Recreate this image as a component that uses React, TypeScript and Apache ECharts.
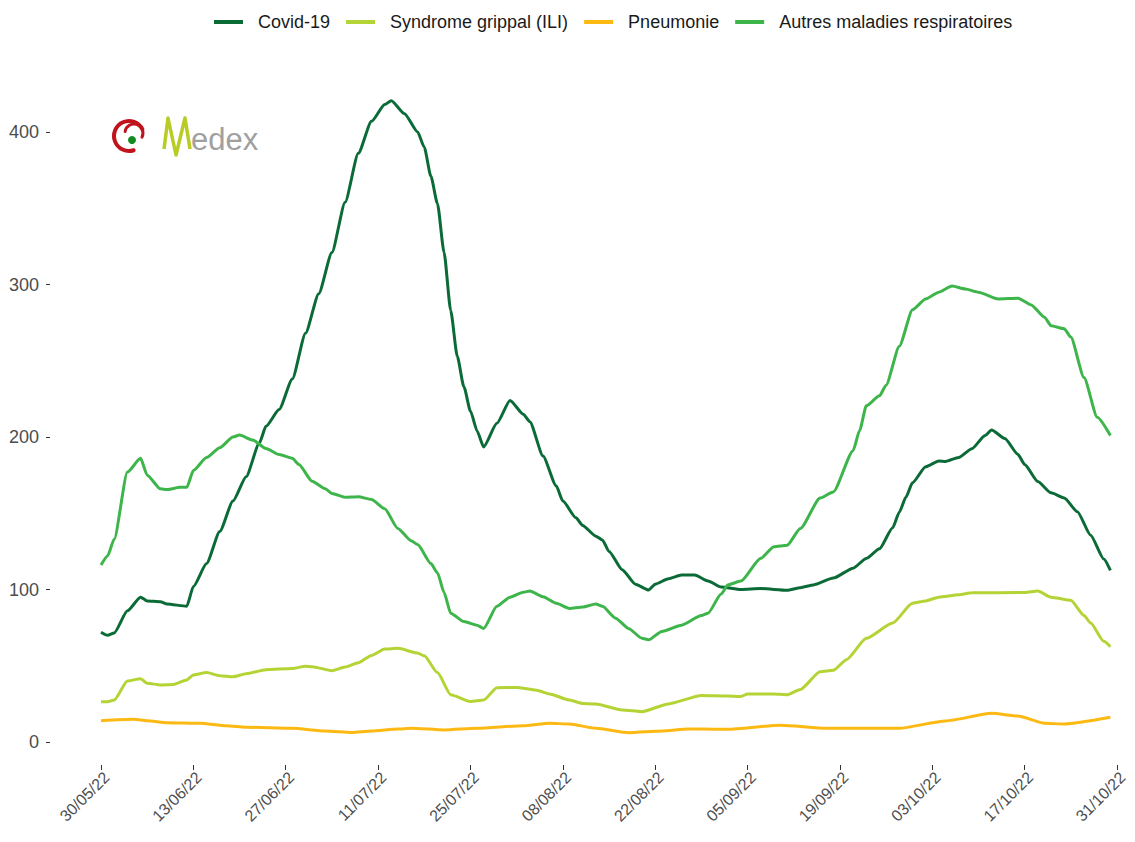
import React, { useEffect, useRef } from "react";
import * as echarts from "echarts";

// Dates are "dd/mm" in 2022
const covidDates = ["30/05","31/05","01/06","03/06","05/06","06/06","08/06","09/06","12/06","13/06","15/06","17/06","19/06","21/06","23/06","24/06","26/06","28/06","30/06","02/07","04/07","06/07","08/07","10/07","12/07","13/07","15/07","17/07","18/07","19/07","20/07","21/07","22/07","23/07","24/07","25/07","26/07","27/07","29/07","31/07","02/08","03/08","05/08","07/08","08/08","10/08","11/08","13/08","14/08","15/08","17/08","19/08","21/08","22/08","24/08","26/08","28/08","30/08","01/09","04/09","07/09","11/09","13/09","15/09","18/09","21/09","23/09","25/09","27/09","28/09","29/09","30/09","02/10","04/10","05/10","07/10","09/10","11/10","12/10","14/10","16/10","17/10","19/10","21/10","23/10","25/10","27/10","29/10","30/10"];
const covidValues = [72,70,71.5,86,95,92.5,92,90.5,89,102,117,138,158,174,196,207,218,238,268,294,321,354,386,407,418,420.5,412,400,390,371,353,321,283,253,233,217,204,193.5,209,224,215,210,187.5,168,158,147,142,135,132.5,125,113,103.5,99.7,103.5,107,109.5,109.5,105.6,101.6,100,100.6,99.5,101.2,103,107.5,114,120.4,126.7,140.5,150.7,160.5,170,180.5,184.3,184,186.6,192.3,201,204.6,199,188.5,182,170.8,163.4,160,151,135.6,120,112.5];

const iliDates = ["30/05","31/05","01/06","03/06","05/06","06/06","08/06","10/06","12/06","13/06","15/06","17/06","19/06","21/06","24/06","28/06","30/06","01/07","04/07","06/07","08/07","10/07","12/07","14/07","17/07","18/07","20/07","22/07","25/07","27/07","29/07","01/08","04/08","06/08","09/08","11/08","13/08","17/08","20/08","24/08","29/08","02/09","04/09","05/09","09/09","11/09","13/09","16/09","18/09","20/09","23/09","27/09","30/09","02/10","04/10","07/10","09/10","17/10","19/10","21/10","24/10","26/10","27/10","29/10","30/10"];
const iliValues = [26.4,26.4,27.5,40,41.5,38.5,37.4,37.7,40.7,44,45.5,43.5,42.8,44.8,47.4,48.2,49.7,49.4,46.8,49.2,52,56.8,61,61.4,58.3,56.5,45.5,31,26.5,27.5,35.6,35.8,34,31.5,27.5,25.3,24.9,21,19.9,25,30.5,30.2,29.8,31.5,31.5,31,34.5,46,47,54,68,78,91,92.5,95,96.5,97.8,98,99,95,93,83,78,66,62.5];

const pneuDates = ["30/05","04/06","06/06","09/06","14/06","18/06","21/06","28/06","03/07","07/07","10/07","14/07","16/07","21/07","26/07","02/08","06/08","09/08","13/08","18/08","23/08","27/08","29/08","02/09","10/09","17/09","28/09","05/10","12/10","16/10","20/10","23/10","30/10"];
const pneuValues = [14,14.9,14,12.7,12.3,10.7,9.7,9,7.2,6.3,7.2,8.5,9,7.9,9,10.7,12.3,11.8,9,6.1,7.2,8.5,8.5,8.3,11,9,9,13.8,18.8,17,12.3,11.8,16.2];

const autresDates = ["30/05","31/05","01/06","03/06","05/06","06/06","08/06","09/06","11/06","12/06","13/06","15/06","17/06","19/06","20/06","22/06","24/06","26/06","28/06","29/06","01/07","03/07","04/07","06/07","08/07","10/07","12/07","14/07","16/07","17/07","19/07","20/07","21/07","22/07","24/07","26/07","27/07","29/07","31/07","02/08","03/08","05/08","07/08","09/08","11/08","13/08","14/08","16/08","18/08","20/08","21/08","23/08","26/08","29/08","30/08","01/09","02/09","04/09","07/09","09/09","11/09","13/09","16/09","18/09","21/09","22/09","23/09","25/09","26/09","28/09","30/09","02/10","04/10","06/10","08/10","10/10","13/10","16/10","18/10","20/10","21/10","23/10","24/10","26/10","28/10","30/10"];
const autresValues = [116,122,133,177,186,175,166,165.5,167,167,178,186.5,193,200,201.3,198,192.5,188.5,186,182,171,166,163,160.5,160.8,159,153,140,132,129.5,117,111,98,84.5,79,76.5,74.5,89,95,98.2,99,95.2,91,87.6,88.5,90.5,89,81.2,74.3,68,67,72.5,76.6,83,84.5,97,103,105.5,120.5,128,129,140,160,164,191,204.5,220.5,227,234,259.5,283.5,290.5,295,299,297,295,290.5,291,286.6,278.6,273,271,265.5,239,213,201];

const seriesNames = ["Covid-19", "Syndrome grippal (ILI)", "Pneumonie", "Autres maladies respiratoires"];
const seriesColors = ["#0b6b37", "#b4d334", "#fdb913", "#3db54a"];

// tick positions: every 14 days from 30/05/22 to 31/10/22; y ticks
const xTickDates = ["30/05","13/06","27/06","11/07","25/07","08/08","22/08","05/09","19/09","03/10","17/10","31/10"];
const yTicks = [0, 100, 200, 300, 400];

const START = Date.UTC(2022, 4, 30);
const toDay = (s: string) => {
  const [dd, mm] = s.split("/").map(Number);
  return (Date.UTC(2022, mm - 1, dd) - START) / 86400000;
};
const pairs = (dates: string[], values: number[]) => dates.map((d, i) => [toDay(d), values[i]]);
const fmtTick = (v: number) => {
  const d = new Date(START + Math.round(v) * 86400000);
  const p = (n: number) => String(n).padStart(2, "0");
  return `${p(d.getUTCDate())}/${p(d.getUTCMonth() + 1)}/${String(d.getUTCFullYear()).slice(2)}`;
};

const FONT = "'Liberation Sans', Arial, sans-serif";

export default function App() {
  const ref = useRef<HTMLDivElement>(null);
  useEffect(() => {
    if (!ref.current) return;
    const chart = echarts.init(ref.current, undefined, { renderer: "svg" });
    const datasets = [
      pairs(covidDates, covidValues),
      pairs(iliDates, iliValues),
      pairs(pneuDates, pneuValues),
      pairs(autresDates, autresValues),
    ];
    const xTicks = xTickDates.map(toDay);
    chart.setOption({
      animation: false,
      backgroundColor: "#ffffff",
      textStyle: { fontFamily: FONT },
      legend: {
        left: 209,
        top: 8,
        icon: "rect",
        itemWidth: 29,
        itemHeight: 4,
        itemGap: 16,
        textStyle: { fontSize: 18, color: "#1a1a1a", fontFamily: FONT, padding: [0, 0, 0, 10] },
        data: seriesNames,
      },
      grid: { left: 50, right: 18, top: 132, bottom: 77, containLabel: false },
      xAxis: {
        type: "value",
        min: -7.731,
        max: 154,
        axisLine: { show: false, onZero: false },
        axisTick: { show: true, length: 5, customValues: xTicks, lineStyle: { color: "#333333", width: 1 } },
        splitLine: { show: false },
        axisLabel: {
          customValues: xTicks,
          rotate: 45,
          margin: 4,
          fontSize: 16,
          color: "#4d4d4d",
          fontFamily: FONT,
          align: "right",
          verticalAlign: "top",
          formatter: (v: number) => fmtTick(v),
        },
      },
      yAxis: {
        type: "value",
        min: -15.08,
        max: 400,
        axisLine: { show: false, onZero: false },
        axisTick: { show: true, length: 4, customValues: yTicks, lineStyle: { color: "#333333", width: 1 } },
        splitLine: { show: false },
        axisLabel: { customValues: yTicks, margin: 11, fontSize: 18, color: "#4d4d4d", fontFamily: FONT },
      },
      series: datasets.map((data, i) => ({
        name: seriesNames[i],
        type: "line",
        data,
        showSymbol: false,
        clip: false,
        smooth: 0.2,
        smoothMonotone: "x",
        color: seriesColors[i],
        lineStyle: { width: 3, color: seriesColors[i] },
      })),
      graphic: [
        {
          type: "arc",
          shape: { cx: 129, cy: 136, r: 15, startAngle: Math.PI * 0.4, endAngle: Math.PI * 1.85, clockwise: true },
          style: { stroke: "#c0141c", lineWidth: 4, fill: "none", lineCap: "round" },
        },
        {
          type: "arc",
          shape: { cx: 134, cy: 133, r: 9, startAngle: Math.PI * 1.05, endAngle: Math.PI * 2.15, clockwise: true },
          style: { stroke: "#c0141c", lineWidth: 3, fill: "none", lineCap: "round" },
        },
        {
          type: "circle",
          shape: { cx: 132, cy: 140, r: 4 },
          style: { fill: "#138a1e" },
        },
        {
          type: "polyline",
          shape: { points: [[164, 149], [168, 118], [176, 155], [185, 118], [190, 149]] },
          style: { stroke: "#b9cc25", lineWidth: 3.5, fill: "none", lineJoin: "round" },
        },
        {
          type: "text",
          style: { text: "edex", x: 191, y: 139, fill: "#a0a0a0", font: `31px ${FONT}`, textVerticalAlign: "middle" },
        },
      ],
    });
    return () => chart.dispose();
  }, []);
  return <div ref={ref} style={{ position: "fixed", left: 0, top: 0, width: 1135, height: 842 }} />;
}
